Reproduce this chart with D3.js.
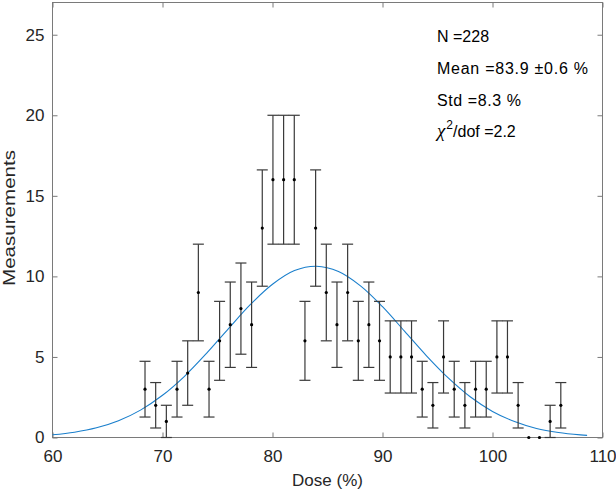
<!DOCTYPE html>
<html><head><meta charset="utf-8">
<script src="https://cdn.jsdelivr.net/npm/d3@7"></script>
<style>body{margin:0;background:#fff}svg{display:block}text{font-family:"Liberation Sans",Arial,sans-serif}</style>
</head><body>
<svg id="chart" width="616" height="493"></svg>
<script>
// Histogram bin centres (Dose %), counts and their errors
const doseBins = [68.41,69.38,70.35,71.32,72.29,73.26,74.23,75.19,76.16,77.13,78.10,79.07,80.04,81.01,81.98,82.95,83.92,84.89,85.86,86.83,87.80,88.76,89.73,90.70,91.67,92.64,93.61,94.58,95.55,96.52,97.49,98.46,99.43,100.40,101.36,102.33,103.30,104.27,105.24,106.21];
const counts = [3,2,1,3,4,9,3,6,7,8,7,13,16,16,16,6,13,9,7,9,6,7,6,5,5,5,3,2,5,3,2,3,3,5,5,2,0,0,1,2];
const errors = [1.73,1.41,1,1.73,2,3,1.73,2.45,2.65,2.83,2.65,3.61,4,4,4,2.45,3.61,3,2.65,3,2.45,2.65,2.45,2.24,2.24,2.24,1.73,1.41,2.24,1.73,1.41,1.73,1.73,2.24,2.24,1.41,0,0,1,1.41];
// Gaussian fit curve
const fitDose = [60,62,64,66,68,70,72,74,76,78,80,82,84,86,88,90,92,94,96,98,100,102,104,106,108,108.6];
const fitValue = [0.17,0.33,0.60,1.04,1.70,2.62,3.80,5.22,6.76,8.26,9.51,10.36,10.63,10.30,9.41,8.12,6.60,5.07,3.68,2.51,1.62,0.99,0.56,0.31,0.16,0.13];
const xTicks = [60,70,80,90,100,110];
const yTicks = [0,5,10,15,20,25];
const statLines = ["N =228","Mean =83.9 \u00B10.6 %","Std =8.3 %"];
const statLengths = [null,151,84];
const chiLabel = ["\u03C7","2","/dof =2.2"];

const svg = d3.select("#chart");
const L = 52.5, R = 602.5, T = 2.5, B = 437.5;
const x = d3.scaleLinear().domain([60,110]).range([L,R]);
const y = d3.scaleLinear().domain([0,27]).range([B,T]);
const axisCol = "#7a7a7a", textCol = "#262626";

// plot box
svg.append("rect").attr("x",L).attr("y",T).attr("width",R-L).attr("height",B-T)
  .attr("fill","none").attr("stroke",axisCol).attr("stroke-width",1);

// axes with inward ticks
const gx = svg.append("g").attr("transform",`translate(0,${B})`)
  .call(d3.axisBottom(x).tickValues(xTicks).tickSize(-5).tickPadding(12).tickFormat(d3.format("d")));
const gxt = svg.append("g").attr("transform",`translate(0,${T})`)
  .call(d3.axisTop(x).tickValues(xTicks).tickSize(-5).tickFormat(""));
const gy = svg.append("g").attr("transform",`translate(${L},0)`)
  .call(d3.axisLeft(y).tickValues(yTicks).tickSize(-5).tickPadding(8).tickFormat(d3.format("d")));
const gyr = svg.append("g").attr("transform",`translate(${R},0)`)
  .call(d3.axisRight(y).tickValues(yTicks).tickSize(-5).tickFormat(""));
[gx,gxt,gy,gyr].forEach(g=>{
  g.select(".domain").remove();
  g.selectAll("line").attr("stroke",axisCol);
  g.selectAll("text").attr("fill",textCol).style("font-size","17px").style("font-family","Liberation Sans, Arial, sans-serif");
});

// axis labels
svg.append("text").attr("x",(L+R)/2).attr("y",486).attr("text-anchor","middle")
  .attr("fill",textCol).style("font-size","17px").text("Dose (%)");
svg.append("text").attr("transform",`translate(15,218) rotate(-90)`).attr("text-anchor","middle")
  .attr("fill",textCol).style("font-size","17px")
  .attr("textLength",136).attr("lengthAdjust","spacingAndGlyphs").text("Measurements");

// fit curve
const line = d3.line().x((d,i)=>x(fitDose[i])).y(d=>y(d)).curve(d3.curveCatmullRom);
svg.append("path").attr("d",line(fitValue)).attr("fill","none")
  .attr("stroke","#1a7fcc").attr("stroke-width",1.1);

// error bars
const pts = doseBins.map((d,i)=>({d,c:counts[i],e:errors[i]}));
const eb = svg.append("g").attr("stroke","#3a3a3a").attr("stroke-width",1.2);
pts.filter(p=>p.e>0).forEach(p=>{
  const cx = x(p.d), y1 = y(p.c-p.e), y2 = y(p.c+p.e);
  eb.append("line").attr("x1",cx).attr("x2",cx).attr("y1",y1).attr("y2",y2);
  eb.append("line").attr("x1",cx-5.5).attr("x2",cx+5.5).attr("y1",y1).attr("y2",y1);
  eb.append("line").attr("x1",cx-5.5).attr("x2",cx+5.5).attr("y1",y2).attr("y2",y2);
});
svg.append("g").selectAll("circle").data(pts).join("circle")
  .attr("cx",p=>x(p.d)).attr("cy",p=>y(p.c)).attr("r",1.6).attr("fill","#000");

// statistics text
const baselines = [42,74,105.5,137];
statLines.forEach((s,i)=>{
  const t = svg.append("text").attr("x",437).attr("y",baselines[i]).attr("fill","#000")
    .style("font-size","16px").text(s);
  if (statLengths[i]) t.attr("textLength",statLengths[i]).attr("lengthAdjust","spacing");
});
const chi = svg.append("text").attr("x",437).attr("y",baselines[3]).attr("fill","#000").style("font-size","16px");
chi.append("tspan").style("font-family","Liberation Serif, serif").style("font-style","italic").style("font-size","19px").text(chiLabel[0]);
chi.append("tspan").attr("dx",1).attr("dy",-8).style("font-size","12px").text(chiLabel[1]);
chi.append("tspan").attr("dy",8).text(chiLabel[2]);
</script>
</body></html>
